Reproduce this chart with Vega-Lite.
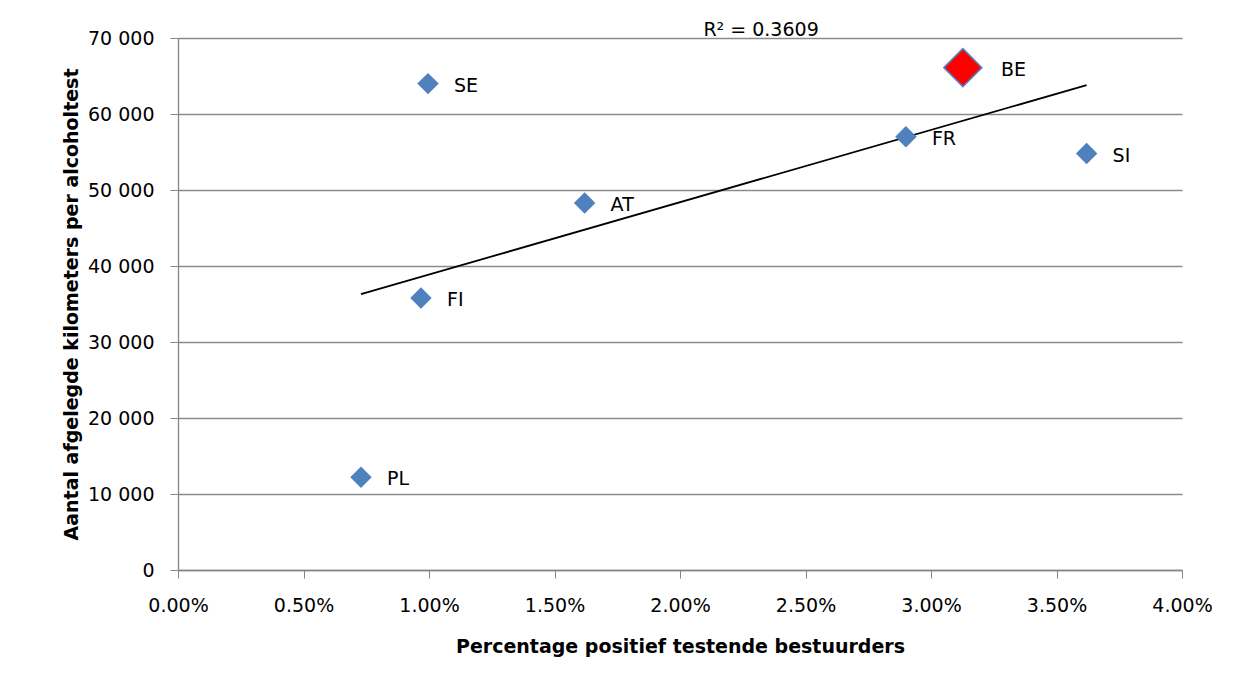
{
  "$schema": "https://vega.github.io/schema/vega-lite/v6.json",
  "width": 1004,
  "height": 532,
  "autosize": {"type": "none"},
  "padding": {"left": 178, "top": 38, "right": 58, "bottom": 116},
  "background": "white",
  "config": {
    "font": "DejaVu Sans",
    "view": {"stroke": null},
    "axis": {
      "labelFont": "DejaVu Sans",
      "titleFont": "DejaVu Sans",
      "labelFontSize": 19,
      "titleFontSize": 19,
      "titleFontWeight": "bold",
      "labelColor": "#000000",
      "titleColor": "#000000",
      "domainColor": "#868686",
      "tickColor": "#868686",
      "gridColor": "#8c8c8c",
      "gridWidth": 1.3,
      "domainWidth": 1.3,
      "tickSize": 8,
      "labelOverlap": false,
      "labelFlush": false,
      "labelBound": false
    }
  },
  "datasets": {
    "points": [
      {"land": "PL", "pct": 0.00729, "km": 12200},
      {"land": "FI", "pct": 0.00968, "km": 35800},
      {"land": "SE", "pct": 0.00996, "km": 64000},
      {"land": "AT", "pct": 0.0162, "km": 48300},
      {"land": "FR", "pct": 0.0290, "km": 57000},
      {"land": "SI", "pct": 0.0362, "km": 54800}
    ],
    "be": [
      {"land": "BE", "pct": 0.03127, "km": 66100}
    ],
    "trend": [
      {"pct": 0.00729, "km": 36300},
      {"pct": 0.0362, "km": 63800}
    ],
    "r2": [
      {"label": "R² = 0.3609", "pct": 0.02323, "km": 71050}
    ]
  },
  "layer": [
    {
      "data": {"name": "trend"},
      "mark": {"type": "line", "color": "#000000", "strokeWidth": 1.8},
      "encoding": {
        "x": {
          "field": "pct", "type": "quantitative",
          "scale": {"domain": [0, 0.04], "nice": false, "zero": false},
          "axis": {
            "format": ".2%", "values": [0, 0.005, 0.01, 0.015, 0.02, 0.025, 0.03, 0.035, 0.04],
            "grid": false, "labelPadding": 18,
            "title": "Percentage positief testende bestuurders", "titlePadding": 22
          }
        },
        "y": {
          "field": "km", "type": "quantitative",
          "scale": {"domain": [0, 70000], "nice": false},
          "axis": {
            "values": [0, 10000, 20000, 30000, 40000, 50000, 60000, 70000],
            "labelExpr": "replace(format(datum.value, ',d'), ',', ' ')",
            "grid": true, "labelPadding": 16,
            "title": "Aantal afgelegde kilometers per alcoholtest", "titlePadding": 6
          }
        }
      }
    },
    {
      "data": {"name": "points"},
      "mark": {"type": "point", "shape": "diamond", "filled": true, "color": "#4F81BD", "size": 460, "opacity": 1},
      "encoding": {
        "x": {"field": "pct", "type": "quantitative"},
        "y": {"field": "km", "type": "quantitative"}
      }
    },
    {
      "data": {"name": "be"},
      "mark": {"type": "point", "shape": "diamond", "filled": true, "fill": "#FF0000", "stroke": "#4F81BD", "strokeWidth": 1.5, "size": 1440, "opacity": 1},
      "encoding": {
        "x": {"field": "pct", "type": "quantitative"},
        "y": {"field": "km", "type": "quantitative"}
      }
    },
    {
      "data": {"name": "points"},
      "mark": {"type": "text", "align": "left", "dx": 26, "dy": 2, "fontSize": 19, "font": "DejaVu Sans", "color": "#000000"},
      "encoding": {
        "x": {"field": "pct", "type": "quantitative"},
        "y": {"field": "km", "type": "quantitative"},
        "text": {"field": "land"}
      }
    },
    {
      "data": {"name": "be"},
      "mark": {"type": "text", "align": "left", "dx": 38, "dy": 2, "fontSize": 19, "font": "DejaVu Sans", "color": "#000000"},
      "encoding": {
        "x": {"field": "pct", "type": "quantitative"},
        "y": {"field": "km", "type": "quantitative"},
        "text": {"field": "land"}
      }
    },
    {
      "data": {"name": "r2"},
      "mark": {"type": "text", "align": "center", "fontSize": 19, "font": "DejaVu Sans", "color": "#000000", "clip": false},
      "encoding": {
        "x": {"field": "pct", "type": "quantitative"},
        "y": {"field": "km", "type": "quantitative"},
        "text": {"field": "label"}
      }
    }
  ]
}
